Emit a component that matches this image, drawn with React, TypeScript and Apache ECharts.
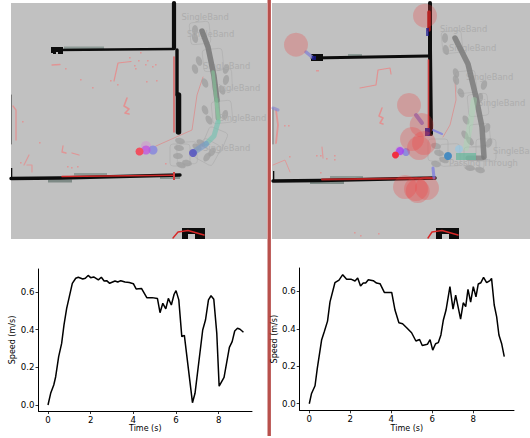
import React, { useEffect, useRef } from "react";
import * as echarts from "echarts";

const xTicksLeft = [0, 2, 4, 6, 8];
const xTicksRight = [0, 2, 4, 6, 8];
const yTicks = [0, 0.2, 0.4, 0.6];
const xName = "Time (s)";
const yName = "Speed (m/s)";

const timeLeft = [0,.125,.27,.36,.5,.64,.75,.875,1,1.14,1.3,1.42,1.63,1.75,1.88,2,2.14,2.36,2.5,2.63,2.75,2.89,3.14,3.27,3.41,3.61,3.81,4,4.13,4.38,4.63,4.88,5.13,5.25,5.38,5.52,5.64,5.78,5.91,6,6.13,6.27,6.39,6.77,6.89,7.25,7.38,7.52,7.64,7.77,7.91,8.02,8.25,8.5,8.63,8.75,8.88,9,9.16];
const speedLeft = [0,.062,.106,.15,.257,.327,.425,.513,.575,.646,.673,.678,.669,.673,.688,.676,.68,.664,.678,.658,.66,.646,.658,.653,.66,.653,.65,.644,.616,.619,.57,.57,.565,.49,.54,.51,.566,.531,.588,.607,.558,.363,.37,.012,.062,.398,.451,.558,.58,.561,.38,.1,.147,.306,.336,.393,.407,.402,.386];
const timeRight = [0,.11,.28,.39,.6,.73,.89,1.01,1.25,1.45,1.63,1.82,2.03,2.23,2.36,2.5,2.63,2.75,2.88,3.12,3.28,3.45,3.66,4.02,4.18,4.37,4.55,4.75,4.99,5.2,5.38,5.51,5.76,5.89,6.02,6.16,6.29,6.42,6.54,6.67,6.86,7.01,7.14,7.38,7.51,7.63,7.74,7.87,8,8.13,8.24,8.37,8.5,8.65,8.81,8.89,9.02,9.14,9.25,9.38,9.51];
const speedRight = [0,.055,.096,.189,.34,.384,.441,.544,.646,.66,.689,.664,.665,.655,.671,.628,.644,.644,.662,.657,.644,.641,.594,.594,.5,.432,.427,.406,.379,.335,.343,.311,.317,.342,.286,.32,.326,.367,.447,.5,.625,.505,.58,.452,.539,.518,.61,.543,.625,.571,.639,.646,.674,.646,.657,.669,.527,.464,.367,.322,.251];

const labelsLeftMap = ["SingleBand", "SingleBand", "SingleBand", "SingleBand", "SingleBand", "SingleBand"];
const labelsRightMap = ["SingleBand", "SingleBand", "SingleBand", "SingleBand", "SingleBand", "Passing Through"];

const line = (pts: number[][], stroke: string, lineWidth: number, opacity = 1) => ({
  type: "polyline", silent: true,
  shape: { points: pts },
  style: { stroke, lineWidth, opacity, fill: "none", lineJoin: "round", lineCap: "round" },
});
const dot = (cx: number, cy: number, r: number, fill: string, opacity = 1) => ({
  type: "circle", silent: true, shape: { cx, cy, r }, style: { fill, opacity },
});
const box = (x: number, y: number, width: number, height: number, fill: string, opacity = 1) => ({
  type: "rect", silent: true, shape: { x, y, width, height }, style: { fill, opacity },
});
const label = (text: string, x: number, y: number) => ({
  type: "text", silent: true, x, y,
  style: { text, fill: "#adadad", font: '8.4px "DejaVu Sans"', verticalAlign: "middle" },
});
const speckle = "#e88a8a";
const specks = (pts: number[][]) => pts.map((p) => box(p[0], p[1], p[2] ?? 1.6, p[3] ?? 1.6, speckle, 0.75));

const outlines = (pts: number[][]) =>
  pts.map((p) => ({
    type: "rect", silent: true, rotation: p[2] ?? 0.1, x: p[0], y: p[1],
    shape: { x: -10, y: -11, width: 20, height: 22, r: 3 },
    style: { fill: "none", stroke: "#adadad", lineWidth: 0.6 },
  }));
const blobs = (pts: number[][]) =>
  pts.map((p) => ({
    type: "ellipse", silent: true, rotation: p[2] ?? 0.3, x: p[0], y: p[1],
    shape: { cx: 0, cy: 0, rx: 3, ry: 5 },
    style: { fill: "#a0a0a0", opacity: 0.8 },
  }));

const leftMap = [
  box(11, 3, 256, 236, "#c1c1c1"),
  box(64, 46.5, 40, 3, "#8d9a96"), box(48, 179.5, 24, 3, "#7e8a86"), box(74, 173, 33, 2.5, "#8d9a96"), box(160, 176.5, 20, 2.5, "#86938f"),
  line([[174, 3], [174, 48]], "#0c0c0c", 4.2),
  line([[177, 50], [177, 95]], "#0c0c0c", 3.4),
  line([[178.5, 95], [178.5, 132]], "#0c0c0c", 5.5),
  line([[56, 50], [174, 49]], "#0c0c0c", 2.6),
  box(51, 47, 12, 7, "#0c0c0c"),
  box(51, 53, 2, 2, "#c1c1c1"), box(56, 52, 2, 2, "#c1c1c1"),
  line([[11, 178.5], [60, 178], [180, 175]], "#0c0c0c", 3.4),
  box(11, 168, 1.3, 10, "#0c0c0c"),
  line([[11.5, 95], [11.5, 144]], "#777", 1),
  line([[62, 176.5], [174, 175.2]], "#d02828", 1.6),
  line([[174, 57], [174, 132]], "#e05555", 1.3),
  box(173, 172, 2, 8, "#d04040"),
  box(182, 228, 23, 11, "#0c0c0c"), box(188, 234, 7, 5, "#c8c8c8"),
  line([[173, 238], [178, 232], [188, 230.5], [204, 235]], "#d82828", 1.4),
  line([[114, 81], [118, 63], [131, 61.5]], speckle, 1.2, 0.85),
  line([[127, 98], [124, 106], [129, 109], [125, 113], [129, 114]], speckle, 1.6, 0.85),
  line([[13, 106], [16, 110], [16, 140]], speckle, 1.3, 0.8),
  line([[52, 65], [60, 64.5]], speckle, 1.3, 0.8),
  line([[63, 146], [62, 152], [66, 153]], speckle, 1.3, 0.8),
  line([[72, 153], [79, 155]], speckle, 1.3, 0.8),
  line([[24, 165], [29, 155]], speckle, 1.2, 0.7),
  line([[27, 165], [32, 165], [32, 172]], speckle, 1.2, 0.7),
  ...specks([[65,68],[80,79],[92,87],[145,64],[138,60],[134,65],[147,60],[152,66],[155,64],[135,68],[146,81],[156,80],[117,84],[110,80],[22,121],[39,142],[67,166],[77,166],[71,167],[20,162],[165,163],[129,57],[140,52]]),
  line([[156, 146], [192, 130], [197, 95], [203, 77]], "#e08585", 0.7),
  ...outlines([[200,33,0.1],[213,60,0.1],[222,80,0.05],[222,112,0.1],[215,140,-0.4],[187,153,0.05],[208,152,-0.5],[180,155,0]]),
  ...blobs([[195,30,0],[195,38,0.2],[199,61,0.3],[195,69,0.3],[226,69,-0.3],[226,80,-0.2],[222,90,0.4],[205,83,0.4],[205,110,0.4],[209,120,0.5],[225,115,-0.2],[212,152,-0.6],[207,157,-0.6],[201,143,1],[197,147,1.1],[180,141,1.3],[179,148,1.4],[178,156,1.5],[181,165,1.2],[187,163,1.3]]),
  ...labelsLeftMap.map((t, i) => label(t, [181.5, 187, 203, 213, 219, 203][i], [17, 34, 66, 88, 118, 148][i])),
  line([[202, 31], [208, 47], [214, 76], [217, 100]], "#7b7b7b", 5.5, 0.9),
  line([[217, 100], [218, 118]], "#7b9a88", 5, 0.65),
  line([[213, 72], [217, 108], [219, 122]], "#86d6a0", 3.5, 0.5),
  line([[218, 122], [214, 136], [206, 144]], "#6fc2b0", 5, 0.6),
  line([[206, 144], [194, 152]], "#7498c8", 6, 0.6),
  dot(193, 153, 4, "#5a58c0", 0.9),
  dot(146, 146, 5, "#e070e0", 0.3),
  dot(153, 150, 4.5, "#7f7fe0", 0.75),
  dot(146, 150, 4.5, "#c050e0", 0.75),
  dot(139.5, 151.5, 4, "#f05060"),
];

const rightMap = [
  box(272, 3, 258, 236, "#c1c1c1"),
  box(348, 54, 14, 2.5, "#8d9a96"), box(310, 181, 34, 3, "#7e8a86"), box(330, 176, 33, 2.5, "#8d9a96"),
  line([[430, 3], [430, 50], [431, 134]], "#0c0c0c", 4),
  line([[312, 58], [428, 56]], "#0c0c0c", 2.8),
  box(311, 54, 12, 7, "#0c0c0c"),
  line([[273, 181], [320, 180.5], [435, 178]], "#0c0c0c", 3.4),
  box(273, 171, 1.3, 10, "#0c0c0c"),
  line([[322, 179.5], [435, 178]], "#b02020", 2),
  line([[429, 12], [429, 30]], "#a01818", 3.5),
  line([[428.5, 60], [428.5, 132]], "#d04040", 1.6),
  line([[273, 108], [273, 144]], "#777", 1),
  box(436, 228, 23, 11, "#0c0c0c"), box(442, 234, 7, 5, "#c8c8c8"),
  line([[428, 238], [432, 232], [442, 230.5], [458, 235]], "#d82828", 1.4),
  line([[360, 88], [376, 85], [378, 70], [390, 68], [391, 74]], speckle, 1.2, 0.85),
  line([[382, 108], [379, 116], [383, 118], [380, 123], [383, 124]], speckle, 1.5, 0.85),
  line([[276, 110], [278, 125], [276, 143]], speckle, 1.8, 0.8),
  line([[273, 165], [285, 160], [290, 172]], speckle, 1, 0.7),
  line([[322, 147], [323, 158]], speckle, 1.2, 0.7),
  ...specks([[316,70,3,1.5],[284,125],[288,125],[289,156],[320,172],[320,155],[316,155],[334,155],[334,159],[326,158],[354,232],[378,233],[360,235]]),
  line([[443, 137], [450, 125], [456, 100], [455, 80]], "#e08585", 0.7),
  line([[306, 52], [312, 57]], "#8a8ad0", 3.5, 0.85),
  line([[416, 115], [422, 123]], "#8878c0", 4, 0.9),
  line([[433, 130], [442, 134]], "#7a7ae0", 2, 0.75),
  line([[434, 178], [433, 168]], "#7a7ae0", 3, 0.75),
  line([[273, 108], [278, 110]], "#8a8ad0", 3, 0.7),
  box(425, 128, 5, 8, "#1a1a90", 0.9), box(426, 28, 3, 8, "#1a1a90", 0.7), box(312, 56, 4, 4, "#1a1a90", 0.8),
  ...outlines([[452,42,0.1],[466,82,0.1],[478,105,0.1],[480,135,0.1],[474,158,0],[450,155,0.05],[438,150,0],[486,150,0]]),
  ...blobs([[445,38,0],[446,50,0.2],[456,73,0.3],[456,80,0.3],[484,85,-0.3],[461,93,0.4],[480,98,-0.2],[466,120,0.5],[465,135,0.6],[470,141,0.7],[487,128,-0.4],[489,143,-0.4],[470,168,1.4],[480,170,1.3],[436,146,1.3],[439,153,1.3],[436,164,1.3],[444,160,1.2]]),
  ...labelsRightMap.map((t, i) => label(t, [440, 449, 466, 478, 493, 449][i], [29, 48, 77, 103, 151, 163][i])),
  line([[455, 38], [468, 64], [476, 97], [482, 127], [484, 157]], "#7b7b7b", 5.5, 0.85),
  line([[482, 158], [468, 158]], "#7b7b7b", 5, 0.7),
  box(456, 153, 20, 7, "#6fb8a0", 0.8),
  line([[474, 100], [470, 125], [466, 148]], "#a0e0b0", 6, 0.35),
  dot(459, 149, 4, "#90c8e8", 0.6),
  dot(448, 156, 4, "#4088c0", 0.95),
  dot(400, 151, 5, "#e070e0", 0.3),
  dot(406, 152, 4, "#7f7fe0", 0.8),
  dot(400, 151, 4, "#a040f0", 0.8),
  dot(395.5, 155, 3.5, "#f03040"),
  ...[[296, 44.7], [425, 15.7], [409, 105], [421.7, 125], [412, 139], [424, 143], [419, 148], [405, 187], [417.7, 191], [427, 188], [416, 189]].map((p) => dot(p[0], p[1], 12, "#f04040", 0.27)),
];

const axisCommon = {
  axisLine: { onZero: false, lineStyle: { color: "#000", width: 1 } },
  axisTick: { length: 3, lineStyle: { color: "#000", width: 0.8 } },
  splitLine: { show: false },
  nameTextStyle: { color: "#000", fontFamily: "DejaVu Sans", fontSize: 8 },
  nameLocation: "middle" as const,
};
const labelStyle = { color: "#000", fontFamily: "DejaVu Sans", fontSize: 8.6, margin: 4 };

const pairs = (xs: number[], ys: number[]) => xs.map((x, i) => [x, ys[i]]);
const plot = (i: number, xs: number[], ys: number[]) => ({
  type: "line", xAxisIndex: i, yAxisIndex: i, data: pairs(xs, ys), showSymbol: false, silent: true,
  lineStyle: { color: "#000", width: 1.5 }, z: 5,
});

export default function App() {
  const ref = useRef<HTMLDivElement>(null);
  useEffect(() => {
    if (!ref.current) return;
    document.body.style.margin = "0";
    const chart = echarts.init(ref.current, undefined, { renderer: "svg" });
    chart.setOption({
      animation: false,
      backgroundColor: "#fff",
      grid: [
        { left: 38.5, top: 269, width: 213.5, height: 142 },
        { left: 299.7, top: 268, width: 214.3, height: 142.3 },
      ],
      xAxis: [
        { ...axisCommon, gridIndex: 0, type: "value", min: -0.445, max: 9.56, name: xName, nameGap: 11,
          axisTick: { ...axisCommon.axisTick, customValues: xTicksLeft },
          axisLabel: { ...labelStyle, customValues: xTicksLeft } },
        { ...axisCommon, gridIndex: 1, type: "value", min: -0.468, max: 9.985, name: xName, nameGap: 11,
          axisTick: { ...axisCommon.axisTick, customValues: xTicksRight },
          axisLabel: { ...labelStyle, customValues: xTicksRight } },
      ],
      yAxis: [
        { ...axisCommon, gridIndex: 0, type: "value", min: -0.032, max: 0.722, name: yName, nameGap: 20,
          axisTick: { ...axisCommon.axisTick, customValues: yTicks },
          axisLabel: { ...labelStyle, customValues: yTicks, formatter: (v: number) => v.toFixed(1) } },
        { ...axisCommon, gridIndex: 1, type: "value", min: -0.035, max: 0.7245, name: yName, nameGap: 20,
          axisTick: { ...axisCommon.axisTick, customValues: yTicks },
          axisLabel: { ...labelStyle, customValues: yTicks, formatter: (v: number) => v.toFixed(1) } },
      ],
      series: [plot(0, timeLeft, speedLeft), plot(1, timeRight, speedRight)],
      graphic: { elements: [...leftMap, ...rightMap, box(267.5, 0, 3.4, 436, "#b8504c")] },
    });
    return () => chart.dispose();
  }, []);
  return <div ref={ref} style={{ position: "absolute", left: 0, top: 0, width: 530, height: 438 }} />;
}
